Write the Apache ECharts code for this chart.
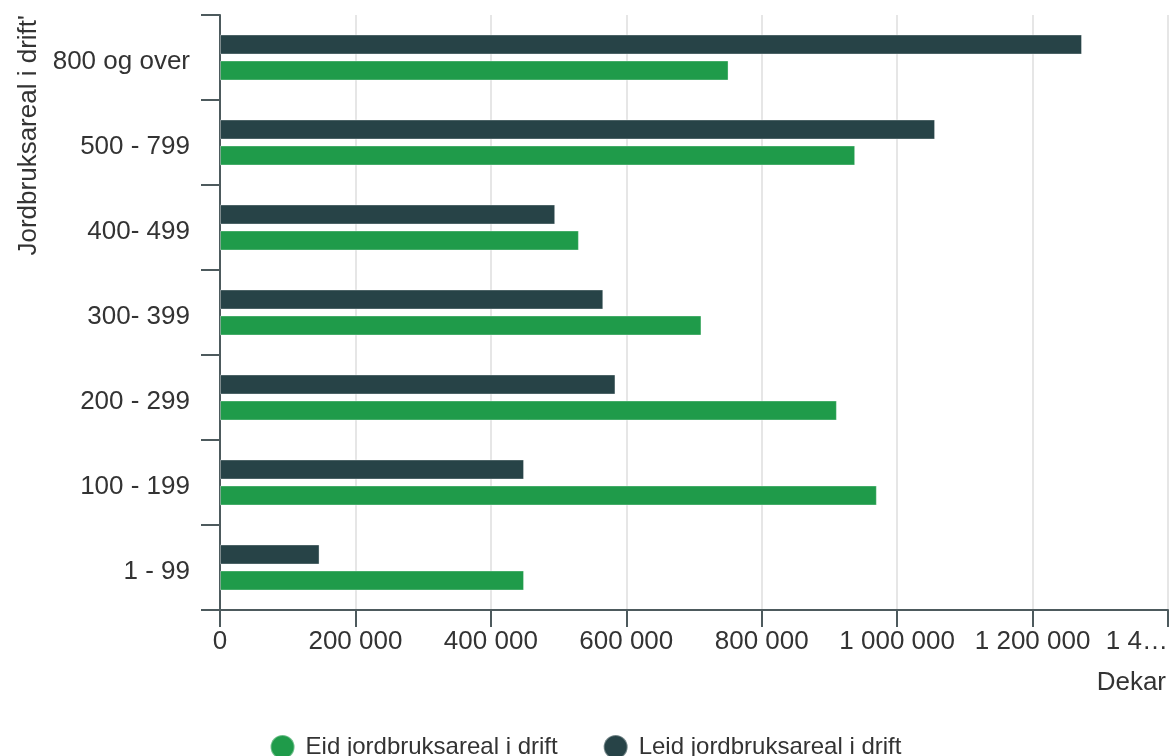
<!DOCTYPE html>
<html>
<head>
<meta charset="utf-8">
<script src="https://cdn.jsdelivr.net/npm/echarts@6/dist/echarts.min.js"></script>
<style>
  html, body { margin: 0; padding: 0; background: #ffffff; }
  #chart { width: 1171px; height: 756px; }
</style>
</head>
<body>
<div id="chart"></div>
<script>
// Farm size groups (dekar), bottom to top
const categories = ['1 - 99', '100 - 199', '200 - 299', '300- 399', '400- 499', '500 - 799', '800 og over'];
// Leased agricultural area in use (dekar)
const leidValues = [147000, 449000, 584000, 566000, 495000, 1056000, 1273000];
// Owned agricultural area in use (dekar)
const eidValues = [449000, 970000, 911000, 711000, 530000, 938000, 751000];
// Value axis ticks
const xTicks = [0, 200000, 400000, 600000, 800000, 1000000, 1200000, 1400000];

const seriesNames = ['Eid jordbruksareal i drift', 'Leid jordbruksareal i drift'];
const colors = { eid: '#1f9b4a', leid: '#274347' };
const FONT = '"Liberation Sans", Arial, sans-serif';
const TEXT = '#333333';
const AXIS = '#4d5a5d';

const X_MIN = xTicks[0];
const X_MAX = xTicks[xTicks.length - 1];
const X_STEP = xTicks[1] - xTicks[0];

function spaced(v) {
  return String(v).replace(/\B(?=(\d{3})+(?!\d))/g, ' ');
}

const chart = echarts.init(document.getElementById('chart'), null, { renderer: 'canvas' });

chart.setOption({
  animation: false,
  backgroundColor: '#ffffff',
  textStyle: { fontFamily: FONT },
  grid: { left: 220, right: 1, top: 15, bottom: 146, containLabel: false },
  legend: {
    data: seriesNames,
    top: 729,
    left: 'center',
    icon: 'circle',
    itemWidth: 24,
    itemHeight: 24,
    itemGap: 45,
    textStyle: { fontSize: 24, color: TEXT, fontFamily: FONT, padding: [0, 0, 0, 6] }
  },
  xAxis: {
    type: 'value',
    min: X_MIN,
    max: X_MAX,
    interval: X_STEP,
    name: 'Dekar',
    nameLocation: 'end',
    nameGap: 0,
    nameTextStyle: {
      fontSize: 26, color: TEXT, fontFamily: FONT,
      align: 'right', verticalAlign: 'top', padding: [60, 2, 0, 0]
    },
    axisLine: { show: true, lineStyle: { color: AXIS, width: 2 } },
    axisTick: { show: true, length: 17, lineStyle: { color: AXIS, width: 2 } },
    axisLabel: {
      fontSize: 26, color: TEXT, fontFamily: FONT, margin: 19,
      alignMaxLabel: 'right',
      // the last label is trimmed so it fits at the right edge
      formatter: v => (v >= X_MAX ? spaced(v).slice(0, 3) + '…' : spaced(v))
    },
    splitLine: { show: true, lineStyle: { color: '#e6e6e6', width: 2 } }
  },
  yAxis: {
    type: 'category',
    data: categories,
    name: "Jordbruksareal i drift'",
    nameLocation: 'end',
    nameGap: 0,
    nameRotate: 90,
    nameTextStyle: {
      fontSize: 26, color: TEXT, fontFamily: FONT,
      align: 'right', verticalAlign: 'bottom', padding: [0, 0, 178, 0]
    },
    axisLine: { show: true, lineStyle: { color: AXIS, width: 2 } },
    axisTick: { show: true, length: 19, lineStyle: { color: AXIS, width: 2 } },
    // labels sit slightly below the band centre
    axisLabel: { fontSize: 26, color: TEXT, fontFamily: FONT, margin: 30, verticalAlign: 'top', lineHeight: 8 },
    splitLine: { show: false }
  },
  series: [
    {
      name: seriesNames[1],
      type: 'bar',
      data: leidValues,
      barWidth: 20,
      barGap: '30%',
      itemStyle: { color: colors.leid, borderColor: 'rgba(255,255,255,0.35)', borderWidth: 1 }
    },
    {
      name: seriesNames[0],
      type: 'bar',
      data: eidValues,
      barWidth: 20,
      barGap: '30%',
      itemStyle: { color: colors.eid, borderColor: 'rgba(255,255,255,0.35)', borderWidth: 1 }
    }
  ]
});
</script>
</body>
</html>
